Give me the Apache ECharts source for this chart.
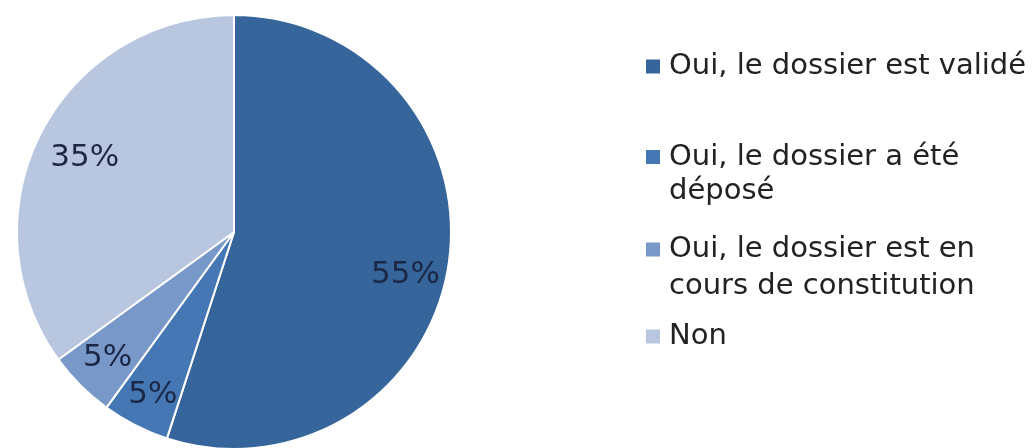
<!DOCTYPE html>
<html><head><meta charset="utf-8">
<script src="https://cdn.jsdelivr.net/npm/echarts@6/dist/echarts.min.js"></script>
<style>html,body{margin:0;padding:0;background:#fff}#c{width:1032px;height:448px}</style>
</head><body><div id="c"></div>
<script>
const categories = ["Oui, le dossier est validé", "Oui, le dossier a été\ndéposé", "Oui, le dossier est en\ncours de constitution", "Non"];
const values = [55, 5, 5, 35];
const colors = ["#35659A", "#4577B5", "#7898C9", "#B8C7DF"];
const legendTops = [44, 101, 189, 314];
const legendLineHeights = [35, 34, 37, 35];
const labelOffsets = [[-5, 15], [0, 4], [0, 0], [10, 7]];

const chart = echarts.init(document.getElementById('c'));
const data = categories.map((n, i) => ({ name: n, value: values[i], itemStyle: { color: colors[i] } }));
const R = 217;
chart.setOption({
  animation: false,
  legend: categories.map((n, i) => {
    const lines = n.split('\n').length;
    return {
      data: [n], left: 639, top: legendTops[i], orient: 'vertical',
      itemWidth: 16, itemHeight: 16, icon: 'rect', itemGap: 0,
      formatter: name => '\n'.repeat(lines - 1) + name,
      textStyle: { fontFamily: 'DejaVu Sans', fontSize: 29, color: '#222', lineHeight: legendLineHeights[i],
        padding: [0, 0, 0, 3] },
      selectedMode: false
    };
  }),
  series: [
    {
      type: 'pie', center: [234, 232], radius: [0, R], startAngle: 90, clockwise: true,
      data: data, label: { show: false }, labelLine: { show: false },
      itemStyle: { borderColor: '#fff', borderWidth: 2 }, silent: true
    },
    {
      type: 'pie', center: [234, 232], radius: [R * 0.62, R], startAngle: 90, clockwise: true,
      data: data.map((d, i) => ({ name: d.name, value: d.value, label: { offset: labelOffsets[i] } })),
      itemStyle: { color: 'rgba(0,0,0,0)' }, silent: true, legendHoverLink: false,
      label: { show: true, position: 'inside', formatter: p => p.value + '%',
        fontFamily: 'DejaVu Sans', fontSize: 31, color: '#1B2745' },
      labelLine: { show: false }
    }
  ]
});
</script></body></html>
